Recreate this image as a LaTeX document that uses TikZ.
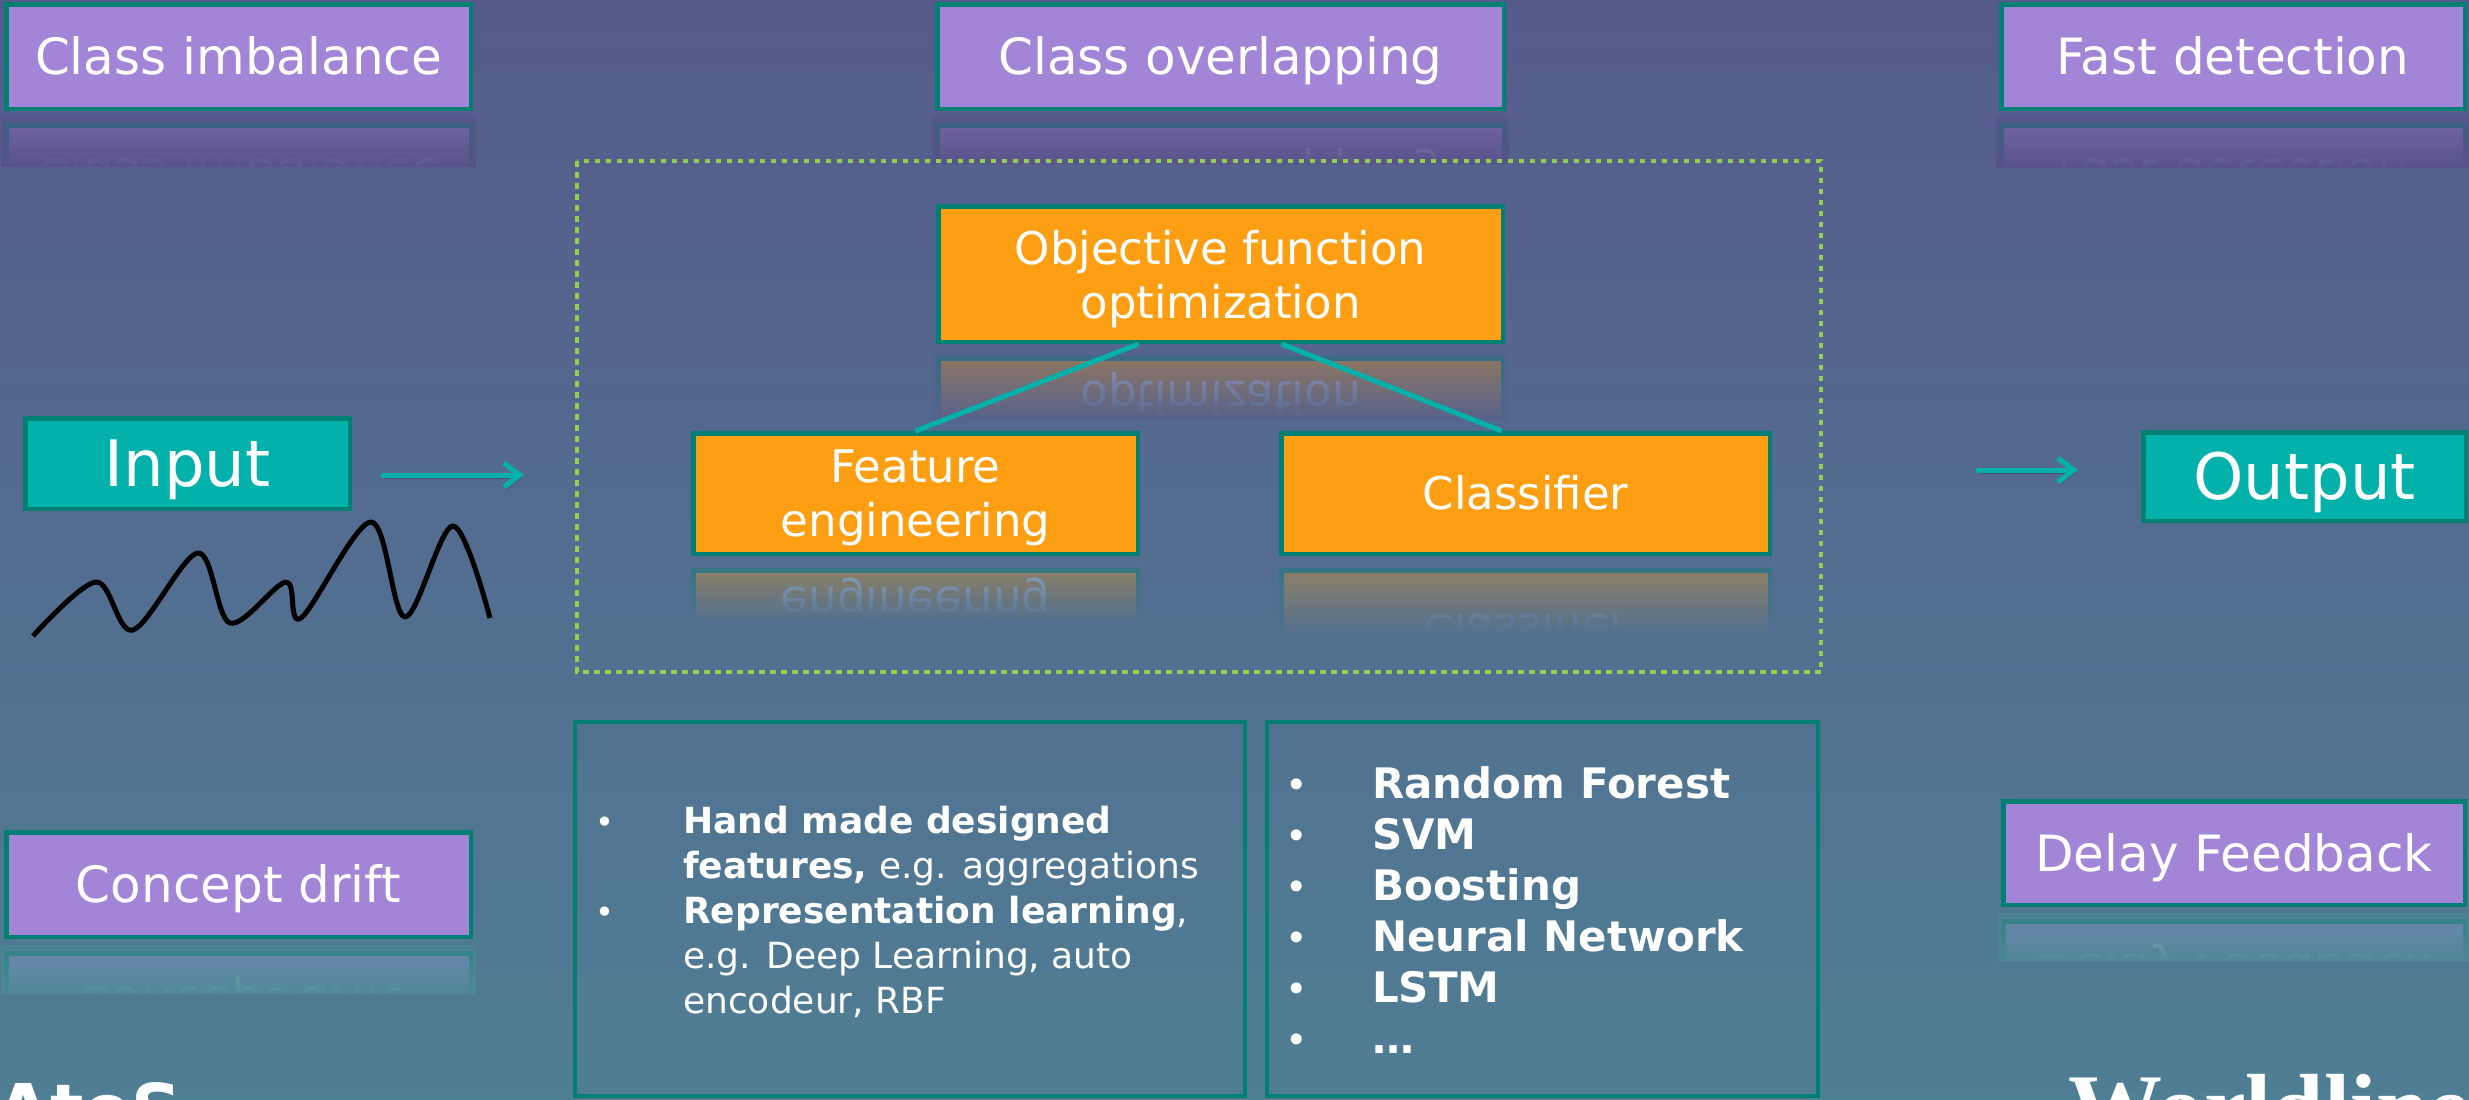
\documentclass[tikz,border=0pt]{standalone}
\usepackage{fontspec}
\setmainfont{DejaVu Sans}
\newfontfamily\logoserif{Liberation Serif}
\usetikzlibrary{arrows.meta,fadings}

\definecolor{bgTop}{RGB}{89,72,134}
\definecolor{bgBot}{RGB}{76,145,153}
\definecolor{lilac}{RGB}{163,133,216}
\definecolor{tealedge}{RGB}{0,128,115}
\definecolor{tealfill}{RGB}{2,178,170}
\definecolor{amber}{RGB}{254,159,19}
\definecolor{lime}{RGB}{146,208,80}

% full-height linear backdrop
\pgfdeclareverticalshading{bgshade}{100bp}{color(0bp)=(bgBot); color(100bp)=(bgTop)}
% veil that hides a mirrored copy progressively
\tikzfading[name=reflcover, top color=transparent!38, bottom color=transparent!0]

% mirrored copy of a box below it, faded into the backdrop
% #1 name, #2 style, #3 cx, #4 cy, #5 outer width, #6 outer height, #7 veil height, #8 text
\newcommand\mirrornode[8]{%
  \pgfmathsetmacro\mirLine{#4+#6/2+6}%
  \pgfmathsetmacro\mirCtr{#4-2*\mirLine}%
  \pgfmathsetmacro\mirEnd{\mirLine+#7}%
  \pgfmathsetmacro\mirClipEnd{\mirEnd-3}%
  \pgfmathsetmacro\mirPct{(\mirLine+0.6*#7)/11}%
  \pgfmathsetmacro\mirL{#3-#5/2-3}%
  \pgfmathsetmacro\mirR{#3+#5/2+3}%
  \colorlet{mircover}{bgBot!\mirPct!bgTop}%
  \begin{scope}
    \clip (\mirL,\mirLine) rectangle (\mirR,\mirClipEnd);
    \begin{scope}[yscale=-1]
      \node[#2, transform shape] (#1) at (#3,\mirCtr) {#8};
    \end{scope}
    \fill[mircover, path fading=reflcover] (\mirL,\mirLine) rectangle (\mirR,\mirEnd);
  \end{scope}%
}

\begin{document}
\begin{tikzpicture}[x=1pt, y=-1pt,
  boxbase/.style={draw=tealedge, line width=4.5pt, inner sep=0pt, text=white},
  issuebox/.style={boxbase, fill=lilac, font=\fontsize{50}{60}\selectfont, text height=36.5pt, text depth=0pt},
  iobox/.style={boxbase, fill=tealfill, font=\fontsize{64}{77}\selectfont, text height=46.7pt, text depth=0pt},
  stagebox/.style={boxbase, fill=amber, font=\fontsize{45}{54}\selectfont, align=center},
  listbox/.style={draw=tealedge, line width=4pt, inner sep=0pt},
  leftitem/.style={text=white, inner sep=0pt, anchor=base west, font=\fontsize{36}{45}\selectfont},
  rightitem/.style={text=white, inner sep=0pt, anchor=base west, font=\fontsize{42}{50}\selectfont\bfseries},
  dotmark/.style={text=white, inner sep=0pt, anchor=base},
  flow/.style={draw=tealfill, line width=5pt, line cap=round,
    -{Straight Barb[length=16pt,width=24pt]},
    preaction={draw=black, opacity=0.22, transform canvas={shift={(2,3)}}}},
  link/.style={draw=tealfill, line width=5pt},
  frame/.style={draw=lime, line width=4pt, dash pattern=on 5.5pt off 5.5pt}
]
\useasboundingbox (0,0) rectangle (2469,1100);
\clip (0,0) rectangle (2469,1100);
\shade[shading=bgshade] (0,0) rectangle (2469,1100);

% mirrored copies
\mirrornode{ci-r}{issuebox, minimum width=464.5pt, minimum height=104.5pt}{238.5}{56.5}{469}{109}{52}{Class imbalance}
\mirrornode{co-r}{issuebox, minimum width=566.5pt, minimum height=104.5pt}{1220.5}{56.5}{571}{109}{49}{Class overlapping}
\mirrornode{fd-r}{issuebox, minimum width=463.5pt, minimum height=104.5pt}{2233}{56.5}{468}{109}{53}{Fast detection}
\mirrornode{obj-r}{stagebox, text depth=0pt, minimum width=564.5pt, minimum height=135.5pt}{1220.5}{274}{569}{140}{72}{Objective function\\optimization}
\mirrornode{fe-r}{stagebox, text depth=0pt, minimum width=444.5pt, minimum height=120.5pt}{915.5}{493.5}{449}{125}{60}{Feature\\engineering}
\mirrornode{cl-r}{stagebox, text height=32.8pt, text depth=0pt, minimum width=488.5pt, minimum height=120.5pt}{1525.5}{493.5}{493}{125}{72}{Classifier}
\mirrornode{cd-r}{issuebox, minimum width=464.5pt, minimum height=104.5pt}{238.5}{884.5}{469}{109}{51}{Concept drift}
\mirrornode{dfb-r}{issuebox, minimum width=461.5pt, minimum height=103.5pt}{2234}{853}{466}{108}{50}{Delay Feedback}

% issue boxes
\node[issuebox, minimum width=464.5pt, minimum height=104.5pt] (ci) at (238.5,56.5) {Class imbalance};
\node[issuebox, minimum width=566.5pt, minimum height=104.5pt] (co) at (1220.5,56.5) {Class overlapping};
\node[issuebox, minimum width=463.5pt, minimum height=104.5pt] (fd) at (2233,56.5) {Fast detection};
\node[issuebox, minimum width=464.5pt, minimum height=104.5pt] (cd) at (238.5,884.5) {Concept drift};
\node[issuebox, minimum width=461.5pt, minimum height=103.5pt] (dfb) at (2234,853) {Delay Feedback};

% input / output
\node[iobox, minimum width=324.5pt, minimum height=90.5pt] (in) at (187.5,463.5) {Input};
\node[iobox, minimum width=322.5pt, minimum height=88.5pt] (out) at (2304.5,476.5) {Output};

% pipeline frame and stages
\draw[frame] (577,161) rectangle (1821,672);
\node[stagebox, text depth=0pt, minimum width=564.5pt, minimum height=135.5pt] (obj) at (1220.5,274) {Objective function\\optimization};
\node[stagebox, text depth=0pt, minimum width=444.5pt, minimum height=120.5pt] (fe) at (915.5,493.5) {Feature\\engineering};
\node[stagebox, text height=32.8pt, text depth=0pt, minimum width=488.5pt, minimum height=120.5pt] (cl) at (1525.5,493.5) {Classifier};
\draw[link] ([xshift=-82pt]obj.south) -- (fe.north);
\draw[link] ([xshift=61pt]obj.south) -- ([xshift=-24pt]cl.north);

% flow arrows
\coordinate (inTail) at (383,475);
\coordinate (inHead) at (524,475);
\coordinate (outTail) at (1978,470);
\coordinate (outHead) at (2078,470);
\draw[flow] (inTail) -- (inHead);
\draw[flow] (outTail) -- (outHead);

% input signal
\draw[line width=5pt, line join=round] plot[smooth, tension=0.55] coordinates {
  (33,636) (96,582) (133,630) (198,553) (230,623) (286,582) (301,618)
  (371,522) (405,617) (453,526) (490,618)};

% method lists
\node[listbox, minimum width=670pt, minimum height=374pt] (lb) at (910,909) {};
\node[listbox, minimum width=551pt, minimum height=374pt] (rb) at (1542.5,909) {};

\node[dotmark, font=\fontsize{32}{40}\selectfont] (hb1) at (605,833) {•};
\node[dotmark, font=\fontsize{32}{40}\selectfont] (hb2) at (605,923) {•};
\node[leftitem] (h1) at (683,833) {\textbf{Hand made designed}};
\node[leftitem] (h2) at (683,878) {\textbf{features,} e.g. aggregations};
\node[leftitem] (h3) at (683,923) {\textbf{Representation learning},};
\node[leftitem] (h4) at (683,968) {e.g. Deep Learning, auto};
\node[leftitem] (h5) at (683,1013) {encodeur, RBF};

\foreach \yy/\nm in {798/1, 849/2, 900/3, 951/4, 1002/5, 1053/6}
  \node[dotmark, font=\fontsize{38}{46}\selectfont] (rbul\nm) at (1297,\yy) {•};
\node[rightitem] (r1) at (1372,798) {Random Forest};
\node[rightitem] (r2) at (1372,849) {SVM};
\node[rightitem] (r3) at (1372,900) {Boosting};
\node[rightitem] (r4) at (1372,951) {Neural Network};
\node[rightitem] (r5) at (1372,1002) {LSTM};
\node[rightitem] (r6) at (1372,1053) {…};

% logos cut by the lower edge
\node[text=white, inner sep=0pt, anchor=base west, font=\fontsize{70}{84}\selectfont\bfseries] (atos) at (-4,1134) {AtoS};
\node[text=white, inner sep=0pt, anchor=base west, font=\logoserif\fontsize{94}{110}\selectfont\bfseries] (wl) at (2068,1139) {Worldline};
\end{tikzpicture}
\end{document}
